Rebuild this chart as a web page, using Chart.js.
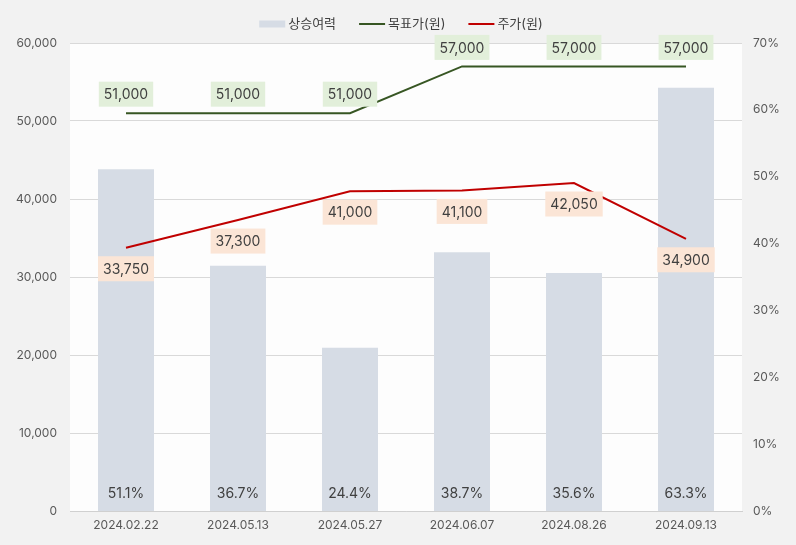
<!DOCTYPE html>
<html>
<head>
<meta charset="utf-8">
<script src="https://cdn.jsdelivr.net/npm/chart.js@4"></script>
<style>
  html, body { margin: 0; padding: 0; background: #f2f2f2; }
  canvas { display: block; }
</style>
</head>
<body>
<canvas id="chart" width="796" height="545"></canvas>
<script>
// 데이터
const dates = ['2024.02.22', '2024.05.13', '2024.05.27', '2024.06.07', '2024.08.26', '2024.09.13'];
const upside = [51.1, 36.7, 24.4, 38.7, 35.6, 63.3];
const targetPrice = [51000, 51000, 51000, 57000, 57000, 57000];
const stockPrice = [33750, 37300, 41000, 41100, 42050, 34900];

const FONT = "Inter, 'Noto Sans CJK KR', sans-serif";
const fmt = v => v.toLocaleString('en-US');

// 배경 (플롯 영역 흰색)
const bgPlugin = {
  id: 'bg',
  beforeDraw(chart) {
    const { ctx, chartArea: a } = chart;
    ctx.save();
    ctx.fillStyle = '#f2f2f2';
    ctx.fillRect(0, 0, chart.width, chart.height);
    ctx.fillStyle = '#fdfdfd';
    ctx.fillRect(a.left, a.top, a.right - a.left, a.bottom - a.top);
    ctx.restore();
  }
};

// 데이터 라벨 (박스 포함)
const labelPlugin = {
  id: 'labels',
  afterDatasetsDraw(chart) {
    const ctx = chart.ctx;
    ctx.save();
    ctx.font = '14px ' + FONT;
    ctx.textAlign = 'center';
    ctx.textBaseline = 'middle';

    // 막대 라벨: 아래쪽
    chart.getDatasetMeta(0).data.forEach((bar, i) => {
      ctx.fillStyle = '#404040';
      ctx.fillText(upside[i].toFixed(1) + '%', bar.x, chart.chartArea.bottom - 17);
    });

    const drawBox = (x, y, text, bg) => {
      const w = ctx.measureText(text).width + 10;
      const h = 25;
      ctx.fillStyle = bg;
      ctx.fillRect(x - w / 2, y - h / 2, w, h);
      ctx.fillStyle = '#404040';
      ctx.fillText(text, x, y + 1);
    };

    // 목표가: 위쪽
    chart.getDatasetMeta(1).data.forEach((pt, i) => {
      drawBox(pt.x, pt.y - 19, fmt(targetPrice[i]), '#e2efda');
    });
    // 주가: 아래쪽
    chart.getDatasetMeta(2).data.forEach((pt, i) => {
      drawBox(pt.x, pt.y + 21, fmt(stockPrice[i]), '#fbe5d6');
    });
    ctx.restore();
  }
};

// 범례
const legendPlugin = {
  id: 'customLegend',
  afterDraw(chart) {
    const ctx = chart.ctx;
    ctx.save();
    ctx.font = '13px ' + FONT;
    ctx.textBaseline = 'middle';
    const items = [
      { text: '상승여력', type: 'box', color: '#d6dce5' },
      { text: '목표가(원)', type: 'line', color: '#375623' },
      { text: '주가(원)', type: 'line', color: '#c00000' }
    ];
    const boxW = 26, gap = 3, itemGap = 23;
    let total = 0;
    items.forEach(it => { it.w = boxW + gap + ctx.measureText(it.text).width; total += it.w; });
    total += itemGap * (items.length - 1);
    let x = 401 - total / 2;
    const y = 24;
    items.forEach(it => {
      ctx.fillStyle = it.color;
      if (it.type === 'box') {
        ctx.fillRect(x, y - 3.5, boxW, 7);
      } else {
        ctx.fillRect(x, y - 1, boxW, 2);
      }
      ctx.fillStyle = '#404040';
      ctx.textAlign = 'left';
      ctx.fillText(it.text, x + boxW + gap, y);
      x += it.w + itemGap;
    });
    ctx.restore();
  }
};

new Chart(document.getElementById('chart').getContext('2d'), {
  type: 'bar',
  data: {
    labels: dates,
    datasets: [
      {
        type: 'bar',
        label: '상승여력',
        data: upside,
        yAxisID: 'y1',
        backgroundColor: '#d6dce5',
        barPercentage: 0.5,
        categoryPercentage: 1,
        order: 3
      },
      {
        type: 'line',
        label: '목표가(원)',
        data: targetPrice,
        yAxisID: 'y',
        borderColor: '#375623',
        borderWidth: 2,
        pointRadius: 0,
        tension: 0,
        fill: false,
        order: 1
      },
      {
        type: 'line',
        label: '주가(원)',
        data: stockPrice,
        yAxisID: 'y',
        borderColor: '#c00000',
        borderWidth: 2,
        pointRadius: 0,
        tension: 0,
        fill: false,
        order: 2
      }
    ]
  },
  options: {
    responsive: false,
    animation: false,
    layout: { padding: { top: 43, bottom: 0, left: 0, right: 0 } },
    plugins: {
      legend: { display: false },
      tooltip: { enabled: false }
    },
    scales: {
      x: {
        grid: { display: false, drawTicks: false },
        border: { color: '#d0d0d0' },
        ticks: { color: '#595959', font: { size: 12, family: FONT }, padding: 7 },
        afterFit(scale) { scale.height = 34; }
      },
      y: {
        position: 'left',
        min: 0, max: 60000,
        grid: { color: '#d9d9d9', drawTicks: false },
        border: { display: false },
        ticks: { stepSize: 10000, color: '#595959', font: { size: 12, family: FONT }, padding: 13, callback: v => fmt(v) },
        afterFit(scale) { scale.width = 70; }
      },
      y1: {
        position: 'right',
        min: 0, max: 70,
        grid: { display: false, drawTicks: false },
        border: { display: false },
        ticks: { stepSize: 10, color: '#595959', font: { size: 12, family: FONT }, padding: 11, callback: v => v + '%' },
        afterFit(scale) { scale.width = 54; }
      }
    }
  },
  plugins: [bgPlugin, labelPlugin, legendPlugin]
});
</script>
</body>
</html>
